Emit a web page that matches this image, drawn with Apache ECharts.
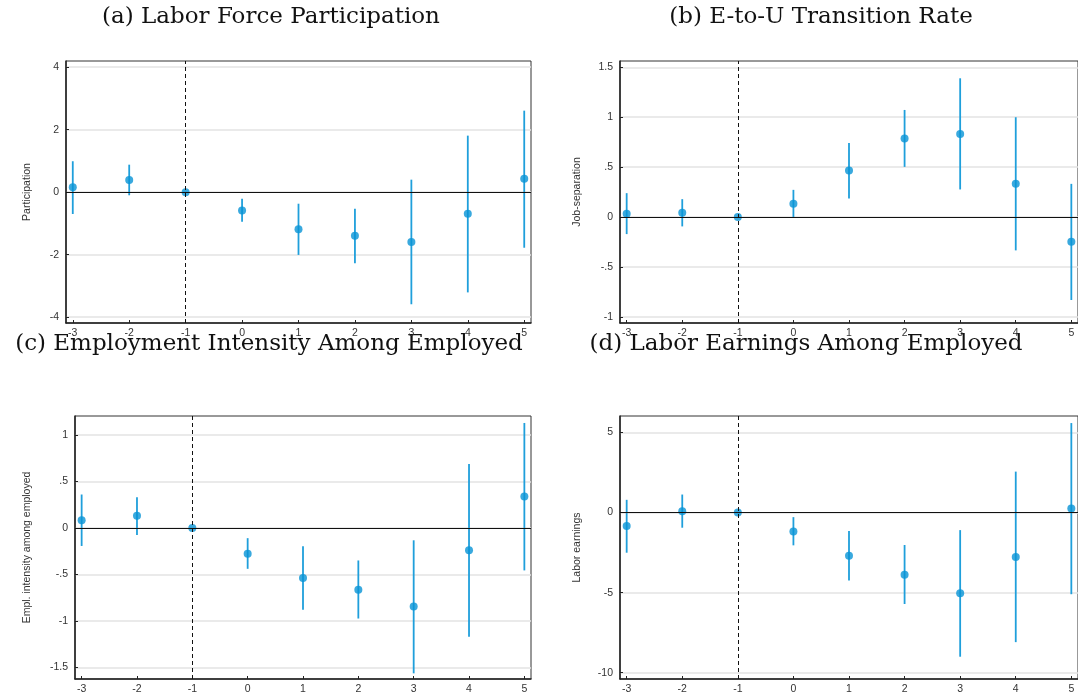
<!DOCTYPE html>
<html>
<head>
<meta charset="utf-8">
<title>Event-study estimates</title>
<script src="https://cdn.jsdelivr.net/npm/echarts@6/dist/echarts.min.js"></script>
<style>
  html, body { margin: 0; padding: 0; background: #fff; }
  #chart { width: 1078px; height: 698px; }
</style>
</head>
<body>
<div id="chart"></div>
<script>
// Event time relative to the shock (period -1 is the reference period)
const periods = [-3, -2, -1, 0, 1, 2, 3, 4, 5];

// (a) Labor force participation: point estimates and 95% CI bounds
const partEst = [0.16, 0.39, 0, -0.59, -1.19, -1.40, -1.60, -0.69, 0.43];
const partLo  = [-0.70, -0.10, null, -0.95, -2.01, -2.28, -3.59, -3.21, -1.78];
const partHi  = [0.99, 0.88, null, -0.21, -0.37, -0.53, 0.40, 1.81, 2.61];

// (b) E-to-U transition rate (job separation)
const sepEst = [0.033, 0.043, 0, 0.133, 0.467, 0.787, 0.833, 0.333, -0.247];
const sepLo  = [-0.17, -0.093, null, 0.0, 0.187, 0.503, 0.277, -0.333, -0.83];
const sepHi  = [0.24, 0.18, null, 0.273, 0.743, 1.073, 1.39, 1.0, 0.333];

// (c) Employment intensity among employed
const intEst = [0.083, 0.13, 0, -0.277, -0.54, -0.665, -0.845, -0.24, 0.338];
const intLo  = [-0.194, -0.076, null, -0.44, -0.88, -0.975, -1.565, -1.17, -0.457];
const intHi  = [0.36, 0.33, null, -0.11, -0.198, -0.35, -0.133, 0.687, 1.13];

// (d) Labor earnings among employed
const earnEst = [-0.85, 0.08, 0, -1.18, -2.70, -3.88, -5.04, -2.78, 0.25];
const earnLo  = [-2.51, -0.95, null, -2.05, -4.25, -5.71, -9.0, -8.09, -5.10];
const earnHi  = [0.79, 1.12, null, -0.29, -1.16, -2.03, -1.10, 2.55, 5.58];

// Panel titles, y-axis titles and y tick values
const panelTitles = [
  '(a) Labor Force Participation',
  '(b) E-to-U Transition Rate',
  '(c) Employment Intensity Among Employed',
  '(d) Labor Earnings Among Employed'
];
const yTitles = ['Participation', 'Job-separation', 'Empl. intensity among employed', 'Labor earnings'];
const yTicksA = [-4, -2, 0, 2, 4];
const yTicksB = [-1, -0.5, 0, 0.5, 1, 1.5];
const yTicksC = [-1.5, -1, -0.5, 0, 0.5, 1];
const yTicksD = [-10, -5, 0, 5];

const panels = [
  { est: partEst, lo: partLo, hi: partHi, yTicks: yTicksA, yMin: -4.19, yMax: 4.20,
    grid: { left: 66, top: 61, width: 465, height: 262 }, nameGap: 33, titleX: 271, titleY: 17 },
  { est: sepEst, lo: sepLo, hi: sepHi, yTicks: yTicksB, yMin: -1.06, yMax: 1.563,
    grid: { left: 620, top: 61, width: 460, height: 262 }, nameGap: 37, titleX: 821, titleY: 17 },
  { est: intEst, lo: intLo, hi: intHi, yTicks: yTicksC, yMin: -1.626, yMax: 1.205,
    grid: { left: 75, top: 416, width: 456, height: 263 }, nameGap: 42, titleX: 269, titleY: 344 },
  { est: earnEst, lo: earnLo, hi: earnHi, yTicks: yTicksD, yMin: -10.39, yMax: 6.02,
    grid: { left: 620, top: 416, width: 460, height: 263 }, nameGap: 37, titleX: 806, titleY: 344 }
];

const POINT_COLOR = '#0793d6';
const CI_COLOR = '#1f9fdb';
const AXIS_COLOR = '#222';
const LABEL_FONT = '"Liberation Sans", Arial, sans-serif';

// Stata-style tick labels: ".5" and "-.5" instead of "0.5"
const fmt = v => String(v).replace(/^(-?)0\./, '$1.');

const grids = [], xAxes = [], yAxes = [], series = [], graphics = [];

panels.forEach((p, i) => {
  grids.push(Object.assign({
    show: true, borderColor: '#333', borderWidth: 1, backgroundColor: '#fff'
  }, p.grid));

  xAxes.push({
    type: 'value', gridIndex: i, min: -3.12, max: 5.12,
    axisLine: { show: true, onZero: false, lineStyle: { color: AXIS_COLOR, width: 1.5 } },
    axisTick: { show: true, inside: true, length: 3, customValues: periods, lineStyle: { color: AXIS_COLOR } },
    axisLabel: { customValues: periods, formatter: fmt, margin: 5, fontSize: 10.5, color: '#333', fontFamily: LABEL_FONT },
    splitLine: { show: false }
  });

  yAxes.push({
    type: 'value', gridIndex: i, min: p.yMin, max: p.yMax,
    name: yTitles[i], nameLocation: 'middle', nameRotate: 90, nameGap: p.nameGap,
    nameTextStyle: { fontSize: 10.5, color: '#333', fontFamily: LABEL_FONT },
    axisLine: { show: true, onZero: false, lineStyle: { color: AXIS_COLOR, width: 1.5 } },
    axisTick: { show: true, inside: true, length: 3, customValues: p.yTicks, lineStyle: { color: AXIS_COLOR } },
    axisLabel: { customValues: p.yTicks, formatter: fmt, margin: 7, fontSize: 10.5, color: '#333', fontFamily: LABEL_FONT },
    splitLine: { show: true, lineStyle: { color: '#e3e3e3', width: 1.5 } }
  });

  // Reference lines: zero effect and the omitted period
  series.push({
    type: 'line', xAxisIndex: i, yAxisIndex: i, data: [], z: 1, silent: true,
    markLine: {
      silent: true, symbol: 'none', label: { show: false }, animation: false,
      data: [
        { yAxis: 0, lineStyle: { color: '#111', width: 1.2, type: 'solid' } },
        { xAxis: -1, lineStyle: { color: '#111', width: 1, type: [4, 3] } }
      ]
    }
  });

  // Confidence interval bars
  const ciData = periods
    .map((t, k) => [t, p.lo[k], p.hi[k]])
    .filter(d => d[1] !== null && d[2] !== null);
  series.push({
    type: 'custom', xAxisIndex: i, yAxisIndex: i, z: 3, silent: true,
    data: ciData,
    renderItem: (params, api) => {
      const a = api.coord([api.value(0), api.value(1)]);
      const b = api.coord([api.value(0), api.value(2)]);
      return {
        type: 'line',
        shape: { x1: a[0], y1: a[1], x2: b[0], y2: b[1] },
        style: { stroke: CI_COLOR, lineWidth: 1.8 }
      };
    }
  });

  // Point estimates
  series.push({
    type: 'scatter', xAxisIndex: i, yAxisIndex: i, z: 4, silent: true,
    symbol: 'circle', symbolSize: 8,
    itemStyle: { color: POINT_COLOR },
    data: periods.map((t, k) => [t, p.est[k]])
  });

  graphics.push({
    type: 'text', x: p.titleX, y: p.titleY,
    style: {
      text: panelTitles[i], fill: '#111',
      font: '23px "DejaVu Serif", "Liberation Serif", serif',
      textAlign: 'center', textVerticalAlign: 'middle'
    }
  });
});

const chart = echarts.init(document.getElementById('chart'), null, { renderer: 'canvas' });
chart.setOption({
  animation: false,
  backgroundColor: '#fff',
  grid: grids,
  xAxis: xAxes,
  yAxis: yAxes,
  series: series,
  graphic: graphics
});
</script>
</body>
</html>
